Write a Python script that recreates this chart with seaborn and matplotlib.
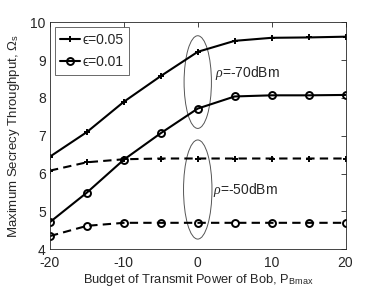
import numpy as np
import pandas as pd
import seaborn as sns
import matplotlib
matplotlib.use("Agg")
import matplotlib.pyplot as plt
from matplotlib.patches import Ellipse

# Budget of transmit power of Bob (dBm)
p_bmax = [-20, -15, -10, -5, 0, 5, 10, 15, 20]

# rho = -70 dBm
thr_e005_rho70 = [6.45, 7.10, 7.90, 8.58, 9.22, 9.51, 9.59, 9.60, 9.62]
thr_e001_rho70 = [4.72, 5.50, 6.37, 7.07, 7.72, 8.04, 8.07, 8.07, 8.08]
# rho = -50 dBm
thr_e005_rho50 = [6.08, 6.30, 6.38, 6.40, 6.40, 6.40, 6.40, 6.40, 6.40]
thr_e001_rho50 = [4.35, 4.62, 4.70, 4.70, 4.70, 4.70, 4.70, 4.70, 4.70]

x_ticks = [-20, -10, 0, 10, 20]
y_ticks = [4, 5, 6, 7, 8, 9, 10]

sns.set_style("white")
plt.rcParams['font.family'] = ['Liberation Sans', 'DejaVu Sans']
plt.rcParams['mathtext.fontset'] = 'custom'
plt.rcParams['mathtext.rm'] = 'Liberation Sans'
plt.rcParams['mathtext.it'] = 'Liberation Serif:italic'
plt.rcParams['axes.unicode_minus'] = False

grey = '#262626'

fig = plt.figure(figsize=(3.82, 3.0), dpi=100)
ax = fig.add_axes([50 / 382, 1 - 249.3 / 300, 295.5 / 382, 227 / 300])

series = [
    (thr_e005_rho70, '+', '-', 'ϵ=0.05'),
    (thr_e001_rho70, 'o', '-', 'ϵ=0.01'),
    (thr_e005_rho50, '+', '--', None),
    (thr_e001_rho50, 'o', '--', None),
]
for vals, mk, ls, lab in series:
    df = pd.DataFrame({'x': p_bmax, 'y': vals})
    sns.lineplot(data=df, x='x', y='y', ax=ax, color='black', linestyle=ls,
                 linewidth=1.5, marker=mk, markersize=5, markeredgewidth=1.4,
                 markerfacecolor='none', markeredgecolor='black', label=lab,
                 dashes=False, legend=False)
for ln in ax.get_lines():
    if ln.get_linestyle() == '--':
        ln.set_dashes([4, 2.5])

# ellipses grouping the rho values
ax.add_patch(Ellipse((0, 8.42), 3.7, 2.45, fill=False, edgecolor='#555555', linewidth=0.7))
ax.add_patch(Ellipse((0, 5.58), 3.85, 2.62, fill=False, edgecolor='#555555', linewidth=0.7))
ax.text(2.3, 8.67, r'$\rho$=-70dBm', fontsize=10, color=grey, va='center', ha='left')
ax.text(2.1, 5.57, r'$\rho$=-50dBm', fontsize=10, color=grey, va='center', ha='left')

ax.set_xlim(-20, 20)
ax.set_ylim(4, 10)
ax.set_xticks(x_ticks)
ax.set_yticks(y_ticks)
ax.tick_params(direction='in', top=True, right=True, length=3.5, width=0.6,
               colors=grey, labelsize=10)
ax.tick_params(axis='x', pad=5)
ax.tick_params(axis='y', pad=3)
for sp in ax.spines.values():
    sp.set_color(grey)
    sp.set_linewidth(0.6)

ax.set_xlabel(r'Budget of Transmit Power of Bob, P$_{\rm Bmax}$', fontsize=9.3, color=grey, labelpad=1)
ax.set_ylabel(r'Maximum Secrecy Throughput, $\Omega_{\rm s}$', fontsize=9.5, color=grey, labelpad=6)

handles, labels = ax.get_legend_handles_labels()
leg = ax.legend(handles[:2], labels[:2], loc='upper left', fontsize=10, frameon=True,
                fancybox=False, edgecolor=grey, borderpad=0.4, labelspacing=0.6,
                handlelength=1.4, handletextpad=0.2, borderaxespad=0.35)
leg.get_frame().set_linewidth(0.6)

fig.savefig('out.png', dpi=100)
